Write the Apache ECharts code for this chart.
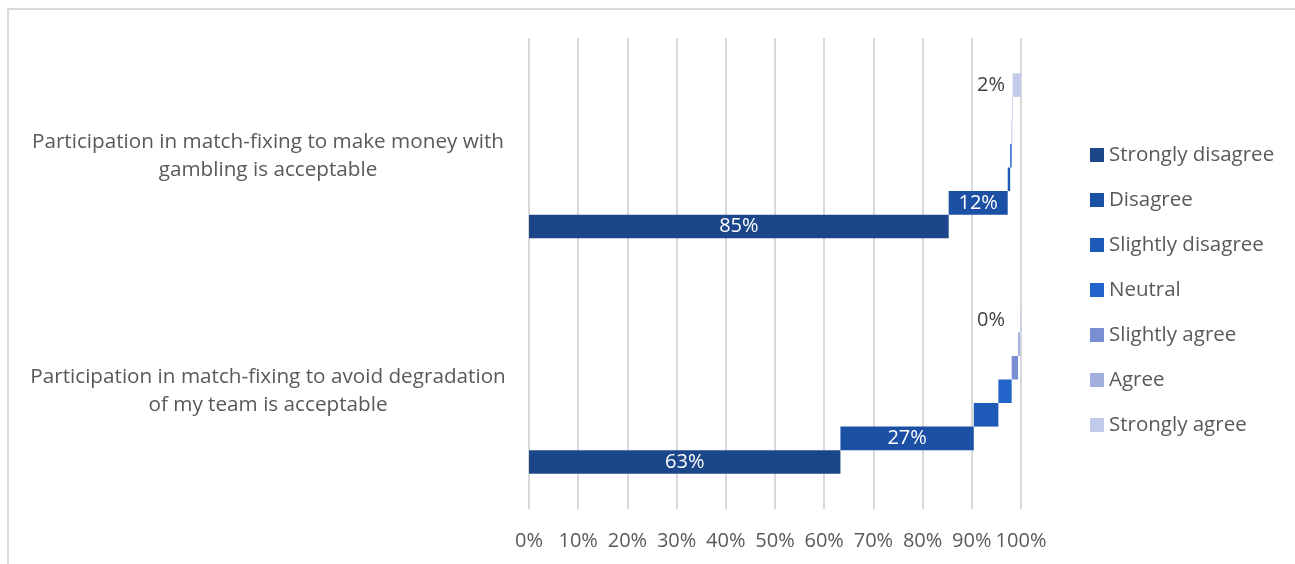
<!DOCTYPE html>
<html>
<head>
<meta charset="utf-8">
<script src="https://cdn.jsdelivr.net/npm/echarts@6/dist/echarts.min.js"></script>
<style>
  html, body { margin: 0; padding: 0; background: #ffffff; }
  #chart { width: 1295px; height: 564px; }
</style>
</head>
<body>
<div id="chart"></div>
<script>
// Survey statements (bottom to top on the category axis)
const categories = [
  'Participation in match-fixing to avoid degradation\nof my team is acceptable',
  'Participation in match-fixing to make money with\ngambling is acceptable'
];

// Answer levels, in legend order
const levels = ['Strongly disagree', 'Disagree', 'Slightly disagree', 'Neutral', 'Slightly agree', 'Agree', 'Strongly agree'];

// Share of answers (%) per level, one value per statement
const stronglyDisagree = [63.3, 85.3];
const disagree         = [27.1, 12.0];
const slightlyDisagree = [5.0, 0.5];
const neutral          = [2.7, 0.3];
const slightlyAgree    = [1.3, 0.1];
const agree            = [0.4, 0.1];
const stronglyAgree    = [0.2, 1.7];

// Percent tick labels along the value axis
const tickStep = 10;
const tickMax = 100;

const levelValues = [stronglyDisagree, disagree, slightlyDisagree, neutral, slightlyAgree, agree, stronglyAgree];
const levelColors = ['#1b4689', '#1c50a4', '#1e5ab8', '#2264c9', '#7a8fd3', '#a0afde', '#c2cbea'];
// which levels carry a value label, and where
const labelMode = ['inside', 'inside', null, null, null, null, 'outside'];

const FONT = '"Open Sans"';
const GREY = '#595959';

// Each level starts where the previous levels end (a cascading bar per statement).
const series = [];
const starts = levelValues.map((vals, i) =>
  vals.map((_, c) => levelValues.slice(0, i).reduce((s, arr) => s + arr[c], 0))
);

// Series are added from the last level to the first so the first level sits lowest in each band.
for (let i = levels.length - 1; i >= 0; i--) {
  const stackId = 'lvl' + i;
  series.push({
    name: levels[i] + ' base',
    type: 'bar',
    stack: stackId,
    silent: true,
    barGap: '0%',
    barCategoryGap: '30%',
    itemStyle: { color: 'transparent' },
    emphasis: { disabled: true },
    data: starts[i]
  });
  const mode = labelMode[i];
  let label = { show: false };
  if (mode === 'inside') {
    label = {
      show: true, position: 'inside', color: '#ffffff',
      fontFamily: FONT, fontSize: 20,
      formatter: p => Math.round(p.value) + '%'
    };
  } else if (mode === 'outside') {
    label = {
      show: true, position: 'insideRight', distance: 16, offset: [0, 2], color: '#404040',
      fontFamily: FONT, fontSize: 20,
      formatter: p => Math.round(p.value) + '%'
    };
  }
  series.push({
    name: levels[i],
    type: 'bar',
    stack: stackId,
    barGap: '0%',
    barCategoryGap: '30%',
    itemStyle: { color: levelColors[i] },
    label: label,
    labelLayout: { hideOverlap: false },
    data: levelValues[i]
  });
}

const chart = echarts.init(document.getElementById('chart'), null, { renderer: 'canvas' });
chart.setOption({
  animation: false,
  backgroundColor: '#ffffff',
  color: levelColors,
  graphic: [{
    type: 'rect',
    shape: { x: 8, y: 9, width: 1400, height: 700 },
    style: { fill: 'none', stroke: '#d9d9d9', lineWidth: 2 },
    silent: true
  }],
  grid: { left: 529, right: 274, top: 38, bottom: 55, containLabel: false },
  xAxis: {
    type: 'value',
    min: 0,
    max: tickMax,
    interval: tickStep,
    axisLine: { show: false },
    axisTick: { show: false },
    splitLine: { show: true, lineStyle: { color: '#d9d9d9', width: 2 } },
    axisLabel: {
      formatter: '{value}%',
      color: GREY, fontFamily: FONT, fontSize: 20, margin: 22
    }
  },
  yAxis: {
    type: 'category',
    data: categories,
    axisLine: { show: false },
    axisTick: { show: false },
    splitLine: { show: false },
    axisLabel: {
      color: GREY, fontFamily: FONT, fontSize: 20.7, lineHeight: 28,
      align: 'center', margin: 261
    }
  },
  legend: {
    orient: 'vertical',
    left: 1090,
    top: 143,
    padding: 0,
    icon: 'rect',
    itemWidth: 14,
    itemHeight: 14,
    itemGap: 21,
    selectedMode: false,
    data: levels,
    textStyle: { color: GREY, fontFamily: FONT, fontSize: 20.5, lineHeight: 24 }
  },
  series: series
});
</script>
</body>
</html>
